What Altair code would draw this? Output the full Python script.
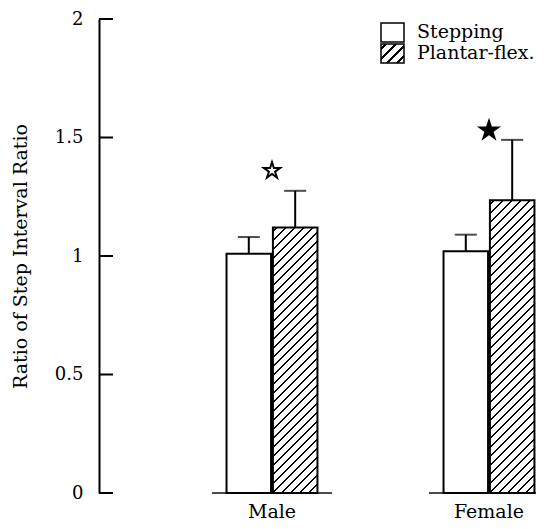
import altair as alt
import pandas as pd

# ---- data ----
groups = ["Male", "Female"]
series = ["Stepping", "Plantar-flex."]
stepping_mean = [1.01, 1.02]
stepping_err = [0.07, 0.07]
plantar_mean = [1.12, 1.235]
plantar_err = [0.155, 0.255]
star_y = [1.36, 1.53]
y_ticks = [0, 0.5, 1, 1.5, 2]

# ---- layout ----
W, H = 437, 474
Y_MAX = 2.0
PX_PER_UNIT = H / Y_MAX
FONT = "DejaVu Serif"
PI, PO, AL = 0.581, 0.2974, 0.988
PI_OFF = 0.04

step = W / (len(groups) - PI + 2 * PO)
band = step * (1 - PI)
sub_step = band / (len(series) - PI_OFF)
bar_w = sub_step * (1 - PI_OFF)

rows = []
for i, g in enumerate(groups):
    rows.append(dict(group=g, series=series[0], mean=stepping_mean[i],
                     top=stepping_mean[i] + stepping_err[i]))
    rows.append(dict(group=g, series=series[1], mean=plantar_mean[i],
                     top=plantar_mean[i] + plantar_err[i]))
df = pd.DataFrame(rows)
gdf = pd.DataFrame({"group": groups})
sdf = pd.DataFrame({"group": groups, "star": star_y})
tdf = pd.DataFrame({"v": y_ticks})


def hatch(w, h, period=9.0, thick=2.0):
    S = w + h
    k = w * h * S / (w * w + h * h)
    stops = [{"offset": 0, "color": "white"}]
    c = period / 2
    while c - thick / 2 < S:
        lo = max(0.0, (c - thick / 2) / S)
        hi = min(1.0, (c + thick / 2) / S)
        stops += [{"offset": round(lo, 5), "color": "white"},
                  {"offset": round(lo, 5), "color": "black"},
                  {"offset": round(hi, 5), "color": "black"},
                  {"offset": round(hi, 5), "color": "white"}]
        c += period
    stops.append({"offset": 1, "color": "white"})
    return {"gradient": "linear", "x1": 0, "y1": 0,
            "x2": round(k / h, 5), "y2": round(k / w, 5), "stops": stops}


xscale = alt.Scale(domain=groups, paddingInner=PI, paddingOuter=PO, align=AL)
x_enc = alt.X("group:N", sort=groups, scale=xscale,
              axis=alt.Axis(title=None, domain=False, ticks=False, tickSize=0,
                            labelAngle=0, labelFontSize=19, labelFont=FONT,
                            labelColor="black", labelPadding=9))
xo_enc = alt.XOffset("series:N", sort=series,
                     scale=alt.Scale(domain=series, paddingInner=PI_OFF, paddingOuter=0))
y_enc = alt.Y("mean:Q", scale=alt.Scale(domain=[0, Y_MAX], nice=False),
              axis=alt.Axis(values=y_ticks, format="~g", grid=False, ticks=False,
                            tickSize=0, labelPadding=16, labelFontSize=18,
                            labelFont=FONT, labelColor="black",
                            domainColor="black", domainWidth=2,
                            title="Ratio of Step Interval Ratio",
                            titleFont=FONT, titleFontSize=19,
                            titleFontWeight="normal", titleColor="black",
                            titlePadding=24))

base = alt.Chart(df)

step_bars = base.transform_filter(alt.datum.series == series[0]).mark_bar(
    fill="white", stroke="black", strokeWidth=2
).encode(x=x_enc, xOffset=xo_enc, y=y_enc)

plantar_layers = []
for i, g in enumerate(groups):
    plantar_layers.append(
        base.transform_filter((alt.datum.series == series[1]) & (alt.datum.group == g))
        .mark_bar(fill=hatch(bar_w, plantar_mean[i] * PX_PER_UNIT),
                  stroke="black", strokeWidth=2)
        .encode(x=x_enc, xOffset=xo_enc, y=y_enc)
    )

stems = base.mark_rule(strokeWidth=2, color="black").encode(
    x=x_enc, xOffset=xo_enc, y="mean:Q", y2="top:Q")
caps = base.mark_tick(size=22, thickness=2, color="black").encode(
    x=x_enc, xOffset=xo_enc, y="top:Q")

baselines = alt.Chart(gdf).mark_tick(size=120, thickness=2, color="black").encode(
    x=x_enc, y=alt.datum(0))

STAR = ("M0,-1L0.2245,-0.309L0.9511,-0.309L0.3633,0.118L0.5878,0.809L0,0.382"
        "L-0.5878,0.809L-0.3633,0.118L-0.9511,-0.309L-0.2245,-0.309Z")
stars = alt.Chart(sdf).mark_point(shape=STAR, filled=True, opacity=1,
                                  stroke="black", strokeWidth=2).encode(
    x=x_enc, y="star:Q",
    fill=alt.condition(alt.datum.group == "Female", alt.value("black"), alt.value("white")),
    size=alt.condition(alt.datum.group == "Female", alt.value(360), alt.value(290)),
)

inner_ticks = alt.Chart(tdf).mark_rule(strokeWidth=2, color="black").encode(
    y="v:Q", x=alt.value(0), x2=alt.value(14))

# ---- manual legend ----
LX0, LX1 = 282, 305
leg_box1 = alt.Chart(pd.DataFrame({"series": [series[0]]})).mark_rect(
    fill="white", stroke="black", strokeWidth=1.5).encode(
    x=alt.value(LX0), x2=alt.value(LX1), y=alt.value(4), y2=alt.value(23))
leg_box2 = alt.Chart(pd.DataFrame({"series": [series[1]]})).mark_rect(
    fill=hatch(LX1 - LX0, 19, period=10, thick=2.4), stroke="black", strokeWidth=1.5).encode(
    x=alt.value(LX0), x2=alt.value(LX1), y=alt.value(25), y2=alt.value(44))
leg_txt1 = alt.Chart(pd.DataFrame({"series": [series[0]]})).mark_text(
    align="left", baseline="alphabetic", font=FONT, fontSize=19, color="black").encode(
    x=alt.value(318), y=alt.value(19), text="series:N")
leg_txt2 = alt.Chart(pd.DataFrame({"series": [series[1]]})).mark_text(
    align="left", baseline="alphabetic", font=FONT, fontSize=19, color="black").encode(
    x=alt.value(318), y=alt.value(40), text="series:N")

chart = alt.layer(
    baselines, step_bars, *plantar_layers, stems, caps, stars, inner_ticks,
    leg_box1, leg_box2, leg_txt1, leg_txt2
).properties(
    width=W, height=H,
    autosize=alt.AutoSizeParams(type="none"),
    padding={"left": 91, "top": 11, "right": 0, "bottom": 28},
).configure_view(stroke=None)

chart.save("out.html", embed_options={"renderer": "svg", "actions": False})
